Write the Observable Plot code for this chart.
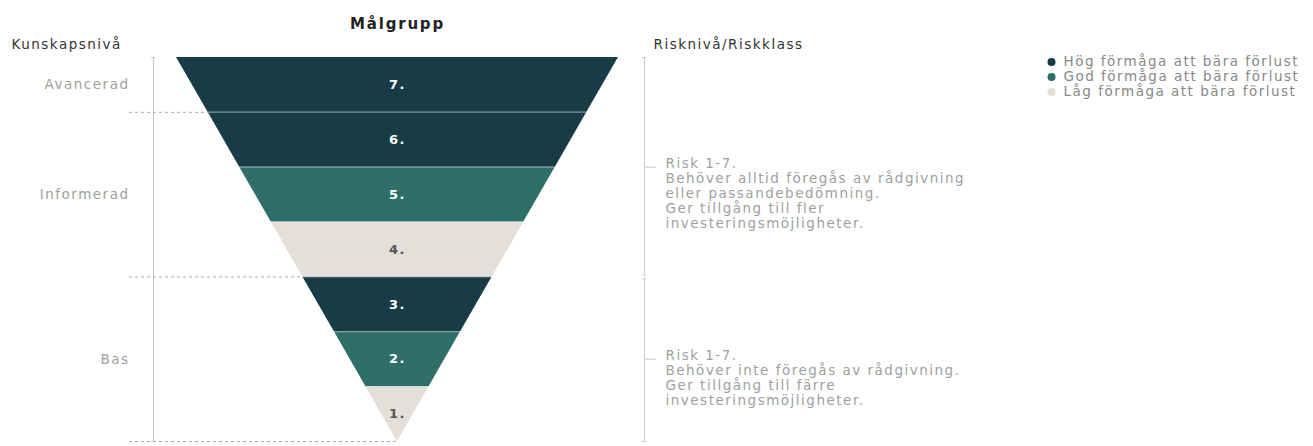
<!DOCTYPE html>
<html>
<head>
<meta charset="utf-8">
<script src="https://cdn.jsdelivr.net/npm/d3@7"></script>
<script src="https://cdn.jsdelivr.net/npm/@observablehq/plot@0.6"></script>
<style>
  html, body { margin: 0; padding: 0; background: #fff; }
  svg { display: block; }
</style>
</head>
<body>
<div id="chart"></div>
<script>
// ---- data ----
const levels = [1, 2, 3, 4, 5, 6, 7];
const levelLabels = ["1.", "2.", "3.", "4.", "5.", "6.", "7."];
const lossCapacity = ["Låg", "God", "Hög", "Låg", "God", "Hög", "Hög"];
const capacityKeys = ["Hög", "God", "Låg"];
const legendLabels = ["Hög förmåga att bära förlust", "God förmåga att bära förlust", "Låg förmåga att bära förlust"];
const knowledgeLevels = ["Bas", "Informerad", "Avancerad"];
const knowledgeBounds = [0, 3, 6, 7];
const riskBounds = [0, 3, 7];
const riskTicks = [1.5, 5];
const riskTexts = [
  "Risk 1-7.\nBehöver inte föregås av rådgivning.\nGer tillgång till färre\ninvesteringsmöjligheter.",
  "Risk 1-7.\nBehöver alltid föregås av rådgivning\neller passandebedömning.\nGer tillgång till fler\ninvesteringsmöjligheter."
];
const titleText = "Målgrupp";
const leftAxisTitle = "Kunskapsnivå";
const rightAxisTitle = "Risknivå/Riskklass";

// ---- layout ----
const W = 1313, H = 446;
const mL = 176, mR = 695, mT = 57, mB = 5;
const pxu = (W - mL - mR) / 2;          // pixels per x unit
const u = p => p / pxu;                  // pixel offset -> x units
const yMax = levels.length;
const half = y => y / yMax;              // funnel half-width at height y
const leftAxisX = -1 - u(23);
const rightAxisX = 1 + u(26);
const gap = 2 / ((H - mT - mB) / yMax);  // ~2px in y units
const font = "'DejaVu Sans', Inter, sans-serif";
const grey = "#a0a0a0";
const fs = 13.5;

const funnel = levels.flatMap((lv, i) =>
  [lv - 1, lv].map(y => ({level: lv, group: lossCapacity[i], y, x1: -half(y), x2: half(y)}))
);
const bandLabels = levels.map((lv, i) => ({y: lv - 0.5, label: levelLabels[i], group: lossCapacity[i]}));
const knowledge = knowledgeLevels.map((k, i) => ({name: k, mid: (knowledgeBounds[i] + knowledgeBounds[i + 1]) / 2}));
const last = riskTexts.length - 1;
const riskSegs = riskTexts.map((t, i) => ({
  text: t,
  y1: riskBounds[i] + (i > 0 ? gap : 0),
  y2: riskBounds[i + 1] - (i < last ? gap : 0),
  tick: riskTicks[i]
}));
const legend = capacityKeys.map((k, i) => ({key: k, label: legendLabels[i], row: i}));
const legendY = r => yMax - 0.08 - r * 0.275;

const chart = Plot.plot({
  width: W, height: H,
  marginLeft: mL, marginRight: mR, marginTop: mT, marginBottom: mB,
  x: {domain: [-1, 1], axis: null},
  y: {domain: [0, yMax], axis: null},
  color: {domain: capacityKeys, range: ["#183c46", "#2f6f69", "#e4dfd8"]},
  style: {fontFamily: font, background: "#fff"},
  marks: [
    // funnel bands
    Plot.areaX(funnel, {y: "y", x1: "x1", x2: "x2", z: "level", fill: "group", curve: "linear"}),
    Plot.ruleY(levels.slice(0, -1), {y: d => d, x1: d => -half(d), x2: d => half(d), stroke: "#fff", strokeOpacity: 0.4}),
    // band labels
    Plot.text(bandLabels.filter(d => d.group !== "Låg"), {x: 0, y: "y", text: "label", fill: "#fff", fontWeight: "bold", fontSize: 13}),
    Plot.text(bandLabels.filter(d => d.group === "Låg"), {x: 0, y: "y", text: "label", fill: "#555", fontWeight: "bold", fontSize: 13}),
    // title
    Plot.text([titleText], {x: 0, y: yMax, dy: -33, text: d => d, fontWeight: "bold", fontSize: 15, fill: "#222"}),
    // left axis
    Plot.ruleX([leftAxisX], {x: d => d, y1: () => 0, y2: () => yMax, stroke: "#c8c8c8"}),
    Plot.ruleY([0, yMax], {y: d => d, x1: () => leftAxisX - u(2), x2: () => leftAxisX + u(2), stroke: "#c8c8c8"}),
    Plot.ruleY(knowledgeBounds.slice(0, -1), {y: d => d, x1: () => -1 - u(47), x2: d => -half(d), stroke: "#aaa", strokeDasharray: "3,3"}),
    Plot.text(knowledge, {x: -1, dx: -47, y: "mid", text: "name", textAnchor: "end", fill: grey, fontSize: fs}),
    Plot.text([leftAxisTitle], {x: -1, dx: -165, y: yMax, dy: -13, text: d => d, textAnchor: "start", fill: "#333", fontSize: fs}),
    // right axis
    Plot.ruleX(riskSegs, {x: () => rightAxisX, y1: "y1", y2: "y2", stroke: "#c8c8c8"}),
    Plot.ruleY(riskSegs.flatMap(d => [d.y1, d.y2]), {y: d => d, x1: () => rightAxisX - u(2), x2: () => rightAxisX + u(2), stroke: "#c8c8c8"}),
    Plot.ruleY(riskSegs, {y: "tick", x1: () => rightAxisX, x2: () => rightAxisX + u(12), stroke: "#c8c8c8"}),
    Plot.text(riskSegs, {x: 1, dx: 47, y: "tick", dy: -10, text: "text", textAnchor: "start", lineAnchor: "top", lineHeight: 1.12, fill: grey, fontSize: fs}),
    Plot.text([rightAxisTitle], {x: 1, dx: 35, y: yMax, dy: -13, text: d => d, textAnchor: "start", fill: "#333", fontSize: fs}),
    // legend
    Plot.dot(legend, {x: 1, dx: 433, y: d => legendY(d.row), r: 4, fill: "key"}),
    Plot.text(legend, {x: 1, dx: 445, y: d => legendY(d.row), text: "label", textAnchor: "start", fill: "#888", fontSize: fs})
  ]
});
chart.style.letterSpacing = "1.5px";
d3.select(chart).selectAll("text").filter(function () { return this.textContent === titleText; }).style("letter-spacing", "1.8px");
document.getElementById("chart").appendChild(chart);
</script>
</body>
</html>
